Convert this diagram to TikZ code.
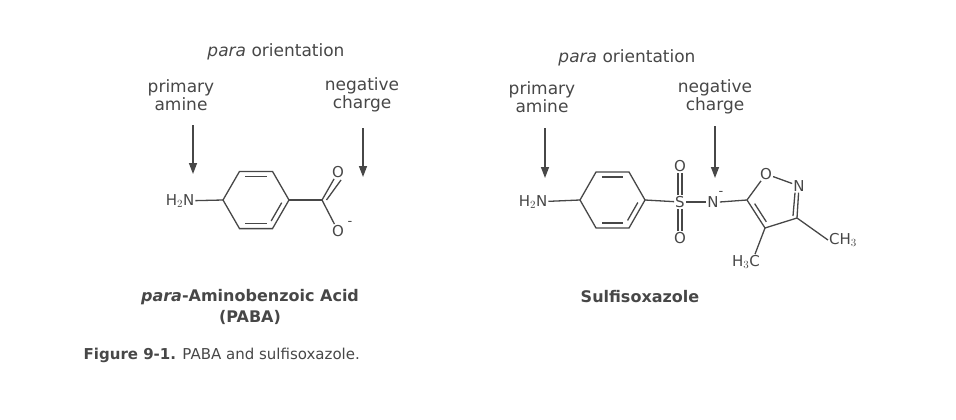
\documentclass[tikz,border=0pt]{standalone}
\usepackage{fontspec}
\setmainfont{DejaVu Sans}
\usetikzlibrary{arrows.meta,calc}
\definecolor{ink}{HTML}{474747}
\begin{document}
\begin{tikzpicture}[x=1pt,y=-1pt,
  every node/.style={text=ink,font=\fontsize{15}{17}\selectfont,inner sep=0.5pt},
  bond/.style={draw=ink,line width=1.3pt},
  atom/.style={font=\fontsize{15}{17}\selectfont,inner sep=1pt},
  lab/.style={align=center,font=\fontsize{17}{18}\selectfont},
  arr/.style={draw=ink,line width=1.4pt,-{Triangle[length=11pt,width=8pt]}}]
\useasboundingbox (0,0) rectangle (956,420);
% ---------- PABA ----------
\node[lab] (po1) at (276,52) {\textit{para} orientation};
\node[lab] (pa1) at (181,95) {primary\\amine};
\node[lab] (nc1) at (362,95) {negative\\charge};
\coordinate (a1s) at (193,125); \coordinate (a1e) at (193,174);
\coordinate (a2s) at (363,128); \coordinate (a2e) at (363,177);
\draw[arr] (a1s) -- (a1e);
\draw[arr] (a2s) -- (a2e);
\node[atom] (n1) at (180,201) {H$_2$N};
\coordinate (r1) at (223,200); \coordinate (r2) at (239.5,171.4);
\coordinate (r3) at (272.5,171.4); \coordinate (r4) at (289,200);
\coordinate (r5) at (272.5,228.6); \coordinate (r6) at (239.5,228.6);
\draw[bond] (r1)--(r2)--(r3)--(r4)--(r5)--(r6)--cycle;
\draw[bond] ($(r2)!0.18!(r3)+(0,5)$) -- ($(r2)!0.82!(r3)+(0,5)$);
\draw[bond] ($(r5)!0.18!(r6)+(0,-5)$) -- ($(r5)!0.82!(r6)+(0,-5)$);
\draw[bond] ($(r4)!0.18!(r5)+(-4.3,-2.5)$) -- ($(r4)!0.82!(r5)+(-4.3,-2.5)$);
\draw[bond] (n1) -- (r1);
\coordinate (c1) at (322,200);
\draw[bond] (r4) -- (c1);
\node[atom] (o1) at (338,172) {O};
\node[atom] (o2) at (338,231) {O};
\node[atom,font=\fontsize{13}{14}\selectfont] at (350,223) {-};
\draw[bond] (c1) -- (o2);
\draw[bond] (c1) -- (o1);
\draw[bond] ($(c1)+(4.5,0)$) -- ($(o1)+(3,8)$);
\node[font=\bfseries\fontsize{16}{21}\selectfont,align=center] (t1) at (250,307) {\textit{para}-Aminobenzoic Acid\\(PABA)};
\node[anchor=west,font=\fontsize{15}{17}\selectfont] (cap) at (83,355) {\textbf{Figure 9-1.} PABA and sulfisoxazole.};
% ---------- Sulfisoxazole ----------
\node[lab] (po2) at (627,58) {\textit{para} orientation};
\node[lab] (pa2) at (542,97) {primary\\amine};
\node[lab] (nc2) at (715,97) {negative\\charge};
\coordinate (b1s) at (545,128); \coordinate (b1e) at (545,178);
\coordinate (b2s) at (715,126); \coordinate (b2e) at (715,178);
\draw[arr] (b1s) -- (b1e);
\draw[arr] (b2s) -- (b2e);
\node[atom] (n2) at (533,202) {H$_2$N};
\coordinate (s1) at (580,200); \coordinate (s2) at (596,172);
\coordinate (s3) at (629,172); \coordinate (s4) at (645,200);
\coordinate (s5) at (629,228); \coordinate (s6) at (596,228);
\draw[bond] (s1)--(s2)--(s3)--(s4)--(s5)--(s6)--cycle;
\draw[bond] ($(s2)!0.18!(s3)+(0,5)$) -- ($(s2)!0.82!(s3)+(0,5)$);
\draw[bond] ($(s5)!0.18!(s6)+(0,-5)$) -- ($(s5)!0.82!(s6)+(0,-5)$);
\draw[bond] ($(s4)!0.18!(s5)+(-4.3,-2.5)$) -- ($(s4)!0.82!(s5)+(-4.3,-2.5)$);
\draw[bond] (n2) -- (s1);
\node[atom] (S) at (680,202) {S};
\node[atom] (os1) at (680,166) {O};
\node[atom] (os2) at (680,238) {O};
\draw[bond] (s4) -- (S);
\draw[bond] ([xshift=-2pt]S.north) -- ([xshift=-2pt]os1.south);
\draw[bond] ([xshift=2pt]S.north) -- ([xshift=2pt]os1.south);
\draw[bond] ([xshift=-2pt]S.south) -- ([xshift=-2pt]os2.north);
\draw[bond] ([xshift=2pt]S.south) -- ([xshift=2pt]os2.north);
\node[atom] (N) at (713,202) {N};
\node[atom,font=\fontsize{13}{14}\selectfont] at (721,193) {-};
\draw[bond] (S) -- (N.west);
\coordinate (i5) at (747,200);
\node[atom] (io) at (766,174) {O};
\node[atom] (in) at (799,186) {N};
\coordinate (i3) at (797,218); \coordinate (i4) at (765,228);
\draw[bond] (N.east) -- (i5);
\draw[bond] (i5) -- (io) -- (in) -- (i3) -- (i4) -- (i5);
\draw[bond] ($(in.south)+(-4,0)$) -- ($(i3)+(-4,-2)$);
\draw[bond] ($(i5)!0.2!(i4)+(4,-2)$) -- ($(i5)!0.85!(i4)+(4,-2)$);
\node[atom] (ch3) at (843,240) {CH$_3$};
\node[atom] (h3c) at (746,262) {H$_3$C};
\draw[bond] (i3) -- (ch3.west);
\draw[bond] (i4) -- ($(h3c.north)+(9,0)$);
\node[font=\bfseries\fontsize{16}{19}\selectfont] (t2) at (640,297) {Sulfisoxazole};
\end{tikzpicture}
\end{document}
